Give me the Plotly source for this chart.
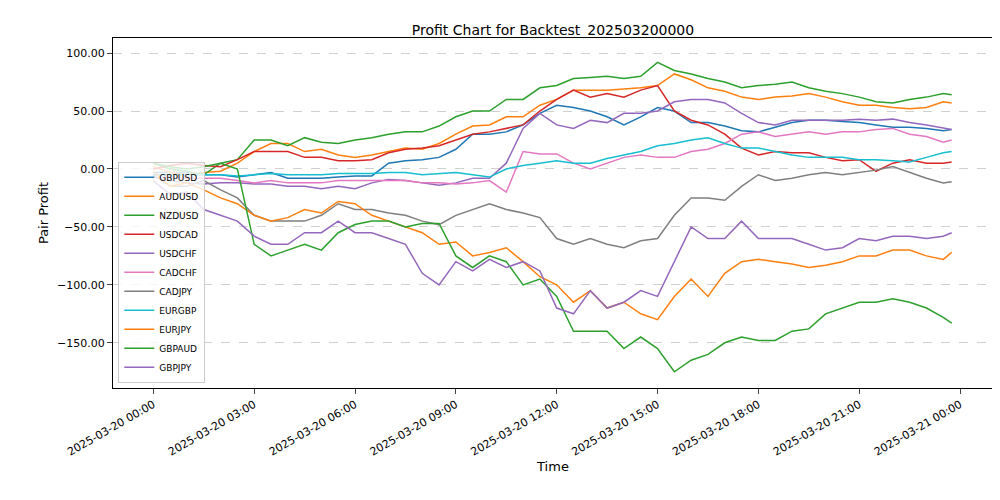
import plotly.graph_objects as go
import pandas as pd

hours = [i * 0.5 for i in range(48)] + [23.75]
times = [pd.Timestamp("2025-03-20") + pd.Timedelta(hours=h) for h in hours]

NZDUSD = [5,0,-2,-5,5,8,25,25,20,27,23,22,25,27,30,32,32,37,45,50,50,60,60,70,72,78,79,80,78,80,92,85,82,78,75,70,72,73,75,70,67,65,62,58,57,60,62,65,64]
AUDUSD = [2,-3,-5,-3,-2,5,15,22,22,15,17,12,10,12,15,18,17,22,30,37,38,45,45,55,60,68,68,68,69,70,72,82,77,70,67,62,60,62,63,65,62,58,55,55,53,52,53,58,57]
USDCAD = [0,3,5,3,2,8,15,15,15,10,10,7,7,8,14,17,18,20,25,30,32,35,38,50,60,68,62,65,62,68,72,50,42,38,30,18,12,15,14,14,10,7,8,-2,5,8,5,5,6]
GBPUSD = [-3,-3,-3,-5,-5,-7,-5,-3,-8,-8,-8,-7,-6,-6,5,7,8,10,17,30,30,32,38,48,55,53,50,45,38,45,53,50,40,40,37,33,32,36,40,42,42,41,40,38,36,36,35,33,34]
USDCHF = [-7,-10,-12,-13,-12,-12,-13,-13,-15,-15,-17,-15,-17,-12,-9,-10,-12,-14,-12,-8,-8,5,35,48,38,35,42,40,48,48,50,58,60,60,57,48,40,38,42,42,42,42,43,42,43,40,38,35,34]
CADCHF = [-5,-7,-8,-8,-8,-10,-12,-10,-12,-12,-12,-10,-10,-10,-10,-10,-12,-12,-13,-12,-10,-20,15,13,13,5,0,5,10,12,10,10,15,17,22,30,32,28,30,32,30,32,32,34,35,30,28,23,25]
CADJPY = [-5,-15,-15,-10,-18,-25,-40,-45,-45,-45,-40,-30,-35,-35,-38,-40,-45,-48,-40,-35,-30,-35,-38,-42,-60,-65,-60,-65,-68,-62,-60,-40,-25,-25,-27,-15,-5,-10,-8,-5,-3,-5,-3,-1,2,-3,-8,-12,-11]
EURGBP = [-5,-5,-5,-5,-5,-6,-5,-4,-5,-5,-5,-4,-4,-4,-3,-3,-5,-4,-3,-5,-7,0,3,5,7,5,5,9,12,15,20,22,25,27,22,18,18,15,12,10,10,10,8,8,7,6,10,14,15]
EURJPY = [-2,-15,-12,-18,-25,-30,-40,-45,-42,-35,-38,-28,-30,-40,-45,-50,-55,-65,-63,-75,-72,-68,-80,-93,-100,-115,-105,-120,-115,-125,-130,-110,-95,-110,-90,-80,-78,-80,-82,-85,-83,-80,-75,-75,-70,-70,-75,-78,-72]
GBPAUD = [5,2,0,2,5,0,-65,-75,-70,-65,-70,-55,-48,-45,-45,-50,-47,-47,-75,-85,-75,-80,-100,-95,-110,-140,-140,-140,-155,-145,-155,-175,-165,-160,-150,-145,-148,-148,-140,-138,-125,-120,-115,-115,-112,-115,-120,-128,-133]
GBPJPY = [-10,-22,-20,-35,-40,-45,-58,-65,-65,-55,-55,-45,-55,-55,-60,-65,-90,-100,-80,-88,-78,-85,-80,-88,-120,-125,-105,-120,-115,-105,-110,-80,-50,-60,-60,-45,-60,-60,-60,-65,-70,-68,-60,-62,-58,-58,-60,-58,-55]

series = [("GBPUSD", GBPUSD, "#1f77b4"), ("AUDUSD", AUDUSD, "#ff7f0e"), ("NZDUSD", NZDUSD, "#2ca02c"),
          ("USDCAD", USDCAD, "#d62728"), ("USDCHF", USDCHF, "#9467bd"), ("CADCHF", CADCHF, "#e377c2"),
          ("CADJPY", CADJPY, "#7f7f7f"), ("EURGBP", EURGBP, "#17becf"), ("EURJPY", EURJPY, "#ff7f0e"),
          ("GBPAUD", GBPAUD, "#2ca02c"), ("GBPJPY", GBPJPY, "#9467bd")]

fig = go.Figure()
for name, vals, c in series:
    fig.add_trace(go.Scatter(x=times, y=vals, name=name, mode="lines", line=dict(color=c, width=1.5)))

tickvals = [pd.Timestamp("2025-03-20") + pd.Timedelta(hours=3 * i) for i in range(9)]
fig.update_layout(
    width=1000, height=500, paper_bgcolor="white", plot_bgcolor="white",
    font=dict(family="DejaVu Sans", size=11, color="black"),
    title=dict(text="Profit Chart for Backtest_202503200000", x=0.545, xanchor="center", y=0.965, font=dict(size=14)),
    margin=dict(l=105, r=15, t=30, b=120),
    xaxis=dict(range=[pd.Timestamp("2025-03-20") - pd.Timedelta(hours=1.2), pd.Timestamp("2025-03-20") + pd.Timedelta(hours=24.98)],
               tickvals=tickvals, ticktext=[t.strftime("%Y-%m-%d %H:%M") for t in tickvals], tickangle=-30,
               showline=True, mirror=True, linecolor="black", ticks="outside", showgrid=False,
               tickfont=dict(size=11), title=dict(text="Time", standoff=3)),
    yaxis=dict(range=[-189, 113], tickvals=[-150, -100, -50, 0, 50, 100], tickformat=".2f",
               showline=True, mirror=True, linecolor="black", ticks="outside", zeroline=False,
               tickfont=dict(size=11),
               showgrid=True, gridcolor="#d0d0d0", griddash="dash", title=dict(text="Pair Profit", standoff=5)),
    legend=dict(x=0.006, y=0.015, xanchor="left", yanchor="bottom", bordercolor="#cccccc", borderwidth=1,
                bgcolor="rgba(255,255,255,0.8)", font=dict(size=9), tracegroupgap=0, itemwidth=30),
)
fig.write_html("out.html")
